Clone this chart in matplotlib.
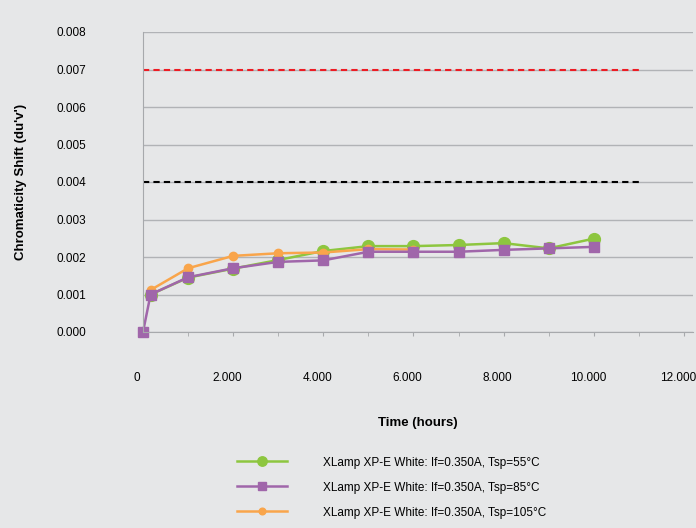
import matplotlib.pyplot as plt
import matplotlib.transforms as mtransforms
from matplotlib.ticker import MultipleLocator

plt.rcParams['font.family'] = ['Liberation Sans', 'DejaVu Sans']

# Data
hours = [0, 168, 1000, 2000, 3000, 4000, 5000, 6000, 7000, 8000, 9000, 10000]
shift_85 = [0.0, 0.00100, 0.00146, 0.00170, 0.00187, 0.00191, 0.00214, 0.00214,
            0.00214, 0.00219, 0.00223, 0.00227]
hours_55 = [168, 1000, 2000, 3000, 4000, 5000, 6000, 7000, 8000, 9000, 10000]
shift_55 = [0.00100, 0.00145, 0.00169, 0.00192, 0.00216, 0.00229, 0.00229,
            0.00232, 0.00237, 0.00223, 0.00249]
hours_105 = [168, 1000, 2000, 3000, 4000, 5000, 6000]
shift_105 = [0.00112, 0.00170, 0.00203, 0.00210, 0.00212, 0.00221, 0.00220]

limit_red = 0.007
limit_black = 0.004
limit_end = 11000

labels = ['XLamp XP-E White: If=0.350A, Tsp=55°C',
          'XLamp XP-E White: If=0.350A, Tsp=85°C',
          'XLamp XP-E White: If=0.350A, Tsp=105°C']
xtick_vals = [0, 2000, 4000, 6000, 8000, 10000, 12000]
xtick_labels = ['0', '2.000', '4.000', '6.000', '8.000', '10.000', '12.000']

bg = '#e6e7e8'
fig = plt.figure(figsize=(6.96, 5.28), dpi=100, facecolor=bg)
ax = fig.add_axes([143 / 696, 1 - 332 / 528, 550 / 696, 300 / 528], facecolor=bg)

ax.set_xlim(0, 12200)
ax.set_ylim(0, 0.008)
ax.yaxis.set_major_locator(MultipleLocator(0.001))
ax.yaxis.set_major_formatter(plt.FuncFormatter(lambda v, p: f'{v:.3f}'))
ax.grid(axis='y', color='#b1b3b6', linewidth=1.0)
ax.set_axisbelow(True)

ax.set_xticks(xtick_vals)
ax.set_xticklabels(xtick_labels)
ax.xaxis.set_minor_locator(MultipleLocator(1000))
ax.tick_params(axis='x', which='both', length=3, color='#a7a9ac', pad=26, labelsize=8.5)
ax.tick_params(axis='y', length=0, pad=62, labelsize=8.5)
for lab in ax.get_yticklabels():
    lab.set_horizontalalignment('left')
shift = mtransforms.ScaledTranslation(-6 / 100, 0, fig.dpi_scale_trans)
for lab in ax.get_xticklabels():
    lab.set_transform(lab.get_transform() + shift)

for s in ['top', 'right']:
    ax.spines[s].set_visible(False)
ax.spines['left'].set_color('#a7a9ac')
ax.spines['bottom'].set_color('#a7a9ac')

ax.plot([0, limit_end], [limit_red, limit_red], color='#ed1c24', linestyle=(0, (3, 2)), linewidth=1.5)
ax.plot([0, limit_end], [limit_black, limit_black], color='#000000', linestyle=(0, (3, 2)), linewidth=1.5)

l1, = ax.plot(hours_55, shift_55, color='#8dc63f', marker='o', markersize=8.5, linewidth=1.8,
              label=labels[0], clip_on=False)
l3, = ax.plot(hours_105, shift_105, color='#f9a54b', marker='o', markersize=6, linewidth=1.8,
              label=labels[2], clip_on=False)
l2, = ax.plot(hours, shift_85, color='#a066aa', marker='s', markersize=7.5, linewidth=1.8,
              label=labels[1], clip_on=False)

ax.set_ylabel("Chromaticity Shift (du'v')", fontsize=9.5, fontweight='bold')
ax.yaxis.set_label_coords(-0.211, 0.5)
fig.text(418 / 696, 1 - 423 / 528, 'Time (hours)', ha='center', va='center',
         fontsize=9.5, fontweight='bold')

fig.legend([l1, l2, l3], labels, loc='upper left', bbox_to_anchor=(226 / 696, 1 - 446 / 528),
           frameon=False, fontsize=8.5, handlelength=4.3, handletextpad=3.0,
           labelspacing=1.1, markerscale=0.8)

fig.savefig('out.png', dpi=100, facecolor=bg)
